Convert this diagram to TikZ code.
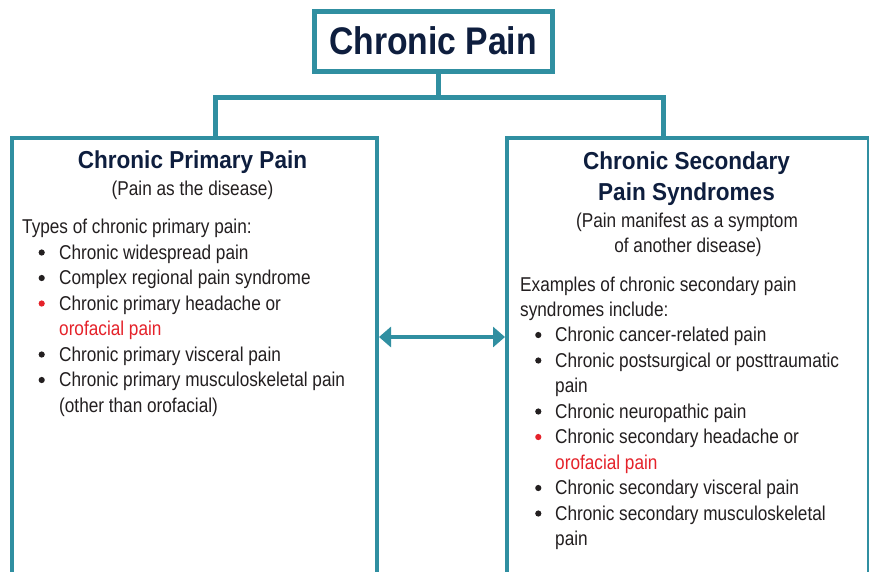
\documentclass[tikz,border=0pt]{standalone}
\usepackage{fontspec}
\setmainfont{Liberation Sans}[FakeStretch=0.86]
\newfontfamily\titlefont{Liberation Sans}[FakeStretch=0.875]
\newfontfamily\headfont{Liberation Sans}[FakeStretch=0.92]
\usetikzlibrary{arrows.meta}
\definecolor{tealc}{HTML}{308FA1}
\definecolor{navyc}{HTML}{0E1E3E}
\definecolor{bodyc}{HTML}{231F20}
\definecolor{redc}{HTML}{E5222A}
\tikzset{
  box/.style={draw=tealc, line width=4pt, fill=white, inner sep=0pt, anchor=north west},
  conn/.style={draw=tealc, line width=5pt, line join=miter},
  arr/.style={draw=tealc, line width=4pt, {Triangle[length=12pt,width=20pt]}-{Triangle[length=12pt,width=20pt]}},
  head/.style={anchor=base, inner sep=0pt, text=navyc, font=\headfont\bfseries\fontsize{24.5}{26}\selectfont},
  sub/.style={anchor=base, inner sep=0pt, text=bodyc, font=\fontsize{20}{24}\selectfont},
  txt/.style={anchor=base west, inner sep=0pt, text=bodyc, font=\fontsize{20}{24}\selectfont},
  redtxt/.style={txt, text=redc},
}
\begin{document}
\begin{tikzpicture}[x=1pt,y=-1pt]
\useasboundingbox (0,0) rectangle (869,571);

% connectors
\coordinate (hub) at (438,97);
\coordinate (hl) at (215,97);
\coordinate (hr) at (663,97);
\coordinate (jl) at (215,137);
\coordinate (jr) at (663,137);
\draw[conn] (jl) -- (hl) -- (hr) -- (jr);

% boxes
\node[box, minimum width=365pt, minimum height=470pt] (lbox) at (10,136) {};
\node[box, minimum width=362pt, minimum height=470pt] (rbox) at (505,136) {};
\node[draw=tealc, line width=5pt, fill=white, minimum width=238pt, minimum height=60pt,
      inner sep=0pt, text height=27.5pt, text depth=0pt, text=navyc,
      font=\titlefont\bfseries\fontsize{38.5}{40}\selectfont] (top) at (433,41) {Chronic Pain};
\draw[conn] (hub |- top.south) -- (hub);

% double arrow
\coordinate (arry) at (0,337);
\draw[arr] (lbox.east |- arry) -- (rbox.west |- arry);

% left box text
\node[head] (lh1) at (192.5,168) {Chronic Primary Pain};
\node[sub] (ls1) at (192.5,195) {(Pain as the disease)};
\node[txt] (lt0) at (22,233) {Types of chronic primary pain:};
\node[txt] (lt1) at (59,259) {Chronic widespread pain};
\node[txt] (lt2) at (59,284.5) {Complex regional pain syndrome};
\node[txt] (lt3) at (59,310) {Chronic primary headache or};
\node[redtxt] (lt4) at (59,335.5) {orofacial pain};
\node[txt] (lt5) at (59,361) {Chronic primary visceral pain};
\node[txt] (lt6) at (59,386.5) {Chronic primary musculoskeletal pain};
\node[txt] (lt7) at (59,412) {(other than orofacial)};
\foreach \yy in {259,284.5,361,386.5} \fill[bodyc] (41.7,\yy-6.5) circle (3.1pt);
\fill[redc] (41.7,310-6.5) circle (3.1pt);

% right box text
\node[head] (rh1) at (686.5,169) {Chronic Secondary};
\node[head] (rh2) at (686.5,200) {Pain Syndromes};
\node[sub] (rs1) at (687,227) {(Pain manifest as a symptom};
\node[sub] (rs2) at (688,252.5) {of another disease)};
\node[txt] (rt0) at (520,291.5) {Examples of chronic secondary pain};
\node[txt] (rt00) at (520,316.5) {syndromes include:};
\node[txt] (rt1) at (555,341.5) {Chronic cancer-related pain};
\node[txt] (rt2) at (555,367) {Chronic postsurgical or posttraumatic};
\node[txt] (rt3) at (555,392.5) {pain};
\node[txt] (rt4) at (555,418) {Chronic neuropathic pain};
\node[txt] (rt5) at (555,443.5) {Chronic secondary headache or};
\node[redtxt] (rt6) at (555,469) {orofacial pain};
\node[txt] (rt7) at (555,494.5) {Chronic secondary visceral pain};
\node[txt] (rt8) at (555,520) {Chronic secondary musculoskeletal};
\node[txt] (rt9) at (555,545.5) {pain};
\foreach \yy in {341.5,367,418,494.5,520} \fill[bodyc] (538.3,\yy-6.5) circle (3.1pt);
\fill[redc] (538.3,443.5-6.5) circle (3.1pt);
\end{tikzpicture}
\end{document}
